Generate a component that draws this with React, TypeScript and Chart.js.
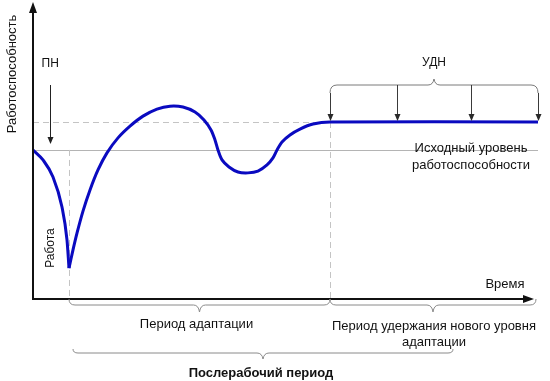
import React, { useEffect, useRef } from "react";
import { Chart, registerables } from "chart.js";

Chart.register(...registerables);

// ---- data (time 0..100, performance 0..100) ----
const workTime = [0, 1.98, 3.96, 5.74, 6.73, 7.13];
const workLevel = [50.7, 47.3, 41.5, 31.3, 20.1, 10.5];

const recoveryTime = [7.13, 7.92, 8.71, 9.9, 11.29, 12.87, 14.65, 16.83, 19.21, 21.78, 24.55, 27.13, 29.7, 32.08, 33.86, 35.25, 36.04, 36.63, 37.43, 38.81, 40.59, 42.57, 44.55, 46.34, 47.52, 48.32, 49.31, 50.89, 52.87, 55.45, 58.81, 100];
const recoveryLevel = [10.5, 16.7, 22.4, 29.9, 37.1, 43.9, 49.7, 54.8, 58.8, 62.2, 64.6, 65.6, 65.3, 63.6, 60.9, 57.5, 54.1, 50.7, 47.3, 44.9, 43.2, 42.9, 43.5, 45.6, 48.0, 50.7, 53.4, 55.8, 57.8, 59.5, 60.2, 60.2];

const initialLevel = 50.7;
const newLevel = 60.2;
const workEnd = 7.13;
const adaptationEnd = 58.81;
const timeEnd = 100;
const udnArrowTimes = [58.81, 72.1, 86.7, 100];
const pnArrowTime = 3.4;

const yAxisTitle = "Работоспособность";
const xAxisTitle = "Время";
const workLabel = "Работа";
const pnLabel = "ПН";
const udnLabel = "УДН";
const initialLevelLabel = ["Исходный уровень", "работоспособности"];
const adaptationLabel = "Период адаптации";
const retentionLabel = ["Период удержания нового уровня", "адаптации"];
const postWorkLabel = "Послерабочий период";

const FONT = '"Liberation Sans", Arial, sans-serif';
const CURVE = "#0a0ac0";

function brace(ctx: CanvasRenderingContext2D, x1: number, x2: number, y0: number, y1: number, depth: number, r: number) {
  const xm = (x1 + x2) / 2;
  ctx.beginPath();
  ctx.moveTo(x1, y0);
  ctx.quadraticCurveTo(x1, y1, x1 + r, y1);
  ctx.lineTo(xm - 6, y1);
  ctx.quadraticCurveTo(xm - 1, y1, xm, y1 + depth);
  ctx.quadraticCurveTo(xm + 1, y1, xm + 6, y1);
  ctx.lineTo(x2 - r, y1);
  ctx.quadraticCurveTo(x2, y1, x2, y0);
  ctx.stroke();
}

function arrowDown(ctx: CanvasRenderingContext2D, x: number, yFrom: number, yTo: number) {
  ctx.beginPath();
  ctx.moveTo(x, yFrom);
  ctx.lineTo(x, yTo - 5);
  ctx.stroke();
  ctx.beginPath();
  ctx.moveTo(x, yTo);
  ctx.lineTo(x - 3, yTo - 7);
  ctx.lineTo(x + 3, yTo - 7);
  ctx.closePath();
  ctx.fill();
}

const diagramPlugin = {
  id: "diagram",
  beforeDatasetsDraw(chart: any) {
    const ctx: CanvasRenderingContext2D = chart.ctx;
    const xs = chart.scales.x;
    const ys = chart.scales.y;
    const X = (v: number) => xs.getPixelForValue(v);
    const Y = (v: number) => ys.getPixelForValue(v);
    const y0 = Y(0);
    ctx.save();
    // initial level line
    ctx.strokeStyle = "#b4b4b4";
    ctx.lineWidth = 1;
    ctx.beginPath();
    ctx.moveTo(X(0), Math.round(Y(initialLevel)) + 0.5);
    ctx.lineTo(X(timeEnd), Math.round(Y(initialLevel)) + 0.5);
    ctx.stroke();
    // dashed lines
    ctx.strokeStyle = "#c4c4c4";
    ctx.setLineDash([6, 4]);
    ctx.beginPath();
    ctx.moveTo(X(0), Math.round(Y(newLevel)) + 0.5);
    ctx.lineTo(X(adaptationEnd), Math.round(Y(newLevel)) + 0.5);
    ctx.moveTo(Math.round(X(workEnd)) + 0.5, Y(initialLevel));
    ctx.lineTo(Math.round(X(workEnd)) + 0.5, y0);
    ctx.moveTo(Math.round(X(adaptationEnd)) + 0.5, Y(newLevel));
    ctx.lineTo(Math.round(X(adaptationEnd)) + 0.5, y0);
    ctx.stroke();
    ctx.restore();
  },
  afterDatasetsDraw(chart: any) {
    const ctx: CanvasRenderingContext2D = chart.ctx;
    const xs = chart.scales.x;
    const ys = chart.scales.y;
    const X = (v: number) => xs.getPixelForValue(v);
    const Y = (v: number) => ys.getPixelForValue(v);
    const x0 = X(0);
    const y0 = Y(0);
    ctx.save();

    // axes
    ctx.strokeStyle = "#111";
    ctx.fillStyle = "#111";
    ctx.lineWidth = 2;
    ctx.beginPath();
    ctx.moveTo(x0, y0 + 1);
    ctx.lineTo(x0, 10);
    ctx.moveTo(x0 - 1, y0);
    ctx.lineTo(527, y0);
    ctx.stroke();
    ctx.beginPath();
    ctx.moveTo(x0, 2);
    ctx.lineTo(x0 - 4, 13);
    ctx.lineTo(x0 + 4, 13);
    ctx.closePath();
    ctx.fill();
    ctx.beginPath();
    ctx.moveTo(534, y0);
    ctx.lineTo(523, y0 - 4);
    ctx.lineTo(523, y0 + 4);
    ctx.closePath();
    ctx.fill();

    // braces
    ctx.lineWidth = 1;
    ctx.strokeStyle = "#8a8a8a";
    brace(ctx, X(workEnd), X(adaptationEnd), y0, y0 + 6, 7, 6);
    brace(ctx, X(adaptationEnd), 536, y0, y0 + 6, 7, 6);
    brace(ctx, X(workEnd) + 4, 453, y0 + 50, y0 + 54, 6, 5);
    // UDN brace
    const yUdn = Y(newLevel) - 37;
    ctx.strokeStyle = "#7a7a7a";
    brace(ctx, X(udnArrowTimes[0]), X(udnArrowTimes[udnArrowTimes.length - 1]), yUdn + 8, yUdn, -6, 7);

    // UDN arrows
    ctx.strokeStyle = "#3a3a3a";
    ctx.fillStyle = "#2a2a2a";
    udnArrowTimes.forEach((t, i) => {
      const start = i === 0 || i === udnArrowTimes.length - 1 ? yUdn + 8 : yUdn;
      arrowDown(ctx, Math.round(X(t)) + 0.5, start, Y(newLevel) - 1);
    });
    // PN arrow
    ctx.strokeStyle = "#222";
    ctx.fillStyle = "#222";
    arrowDown(ctx, Math.round(X(pnArrowTime)) + 0.5, 85, Y(initialLevel) - 6);

    // texts
    ctx.fillStyle = "#111";
    ctx.textAlign = "center";
    ctx.textBaseline = "middle";
    ctx.font = `12px ${FONT}`;
    ctx.fillText(pnLabel, X(pnArrowTime), 64);
    ctx.fillText(udnLabel, (X(udnArrowTimes[0]) + X(udnArrowTimes[3])) / 2, 63);
    ctx.font = `13px ${FONT}`;
    ctx.fillText(initialLevelLabel[0], 471, Y(initialLevel) - 2);
    ctx.fillText(initialLevelLabel[1], 471, Y(initialLevel) + 15);
    ctx.fillText(xAxisTitle, 505, y0 - 15);
    ctx.fillText(adaptationLabel, (X(workEnd) + X(adaptationEnd)) / 2 - 3, y0 + 25);
    ctx.fillText(retentionLabel[0], 434, y0 + 27);
    ctx.fillText(retentionLabel[1], 434, y0 + 43);
    ctx.font = `bold 13px ${FONT}`;
    ctx.fillText(postWorkLabel, 261, y0 + 74);

    ctx.font = `13px ${FONT}`;
    ctx.save();
    ctx.translate(12, 74);
    ctx.rotate(-Math.PI / 2);
    ctx.fillText(yAxisTitle, 0, 0);
    ctx.restore();
    ctx.font = `12px ${FONT}`;
    ctx.save();
    ctx.translate(51, 248);
    ctx.rotate(-Math.PI / 2);
    ctx.fillText(workLabel, 0, 0);
    ctx.restore();

    ctx.restore();
  },
};

export default function App() {
  const ref = useRef<HTMLCanvasElement | null>(null);
  useEffect(() => {
    document.body.style.margin = "0";
    const canvas = ref.current;
    if (!canvas) return;
    const chart = new Chart(canvas, {
      type: "line",
      data: {
        datasets: [
          {
            label: workLabel,
            data: workTime.map((t, i) => ({ x: t, y: workLevel[i] })),
            borderColor: CURVE,
            borderWidth: 3,
            pointRadius: 0,
            cubicInterpolationMode: "monotone",
            fill: false,
          },
          {
            label: "Восстановление",
            data: recoveryTime.map((t, i) => ({ x: t, y: recoveryLevel[i] })),
            borderColor: CURVE,
            borderWidth: 3,
            pointRadius: 0,
            tension: 0.3,
            fill: false,
          },
        ],
      },
      options: {
        responsive: false,
        animation: false,
        layout: { padding: { left: 33, right: 12, top: 5, bottom: 82 } },
        scales: {
          x: { type: "linear", min: 0, max: timeEnd, display: false },
          y: { min: 0, max: 100, display: false },
        },
        plugins: { legend: { display: false }, tooltip: { enabled: false } },
      },
      plugins: [diagramPlugin],
    } as any);
    return () => chart.destroy();
  }, []);
  return <canvas ref={ref} width={550} height={381} style={{ display: "block" }} />;
}
